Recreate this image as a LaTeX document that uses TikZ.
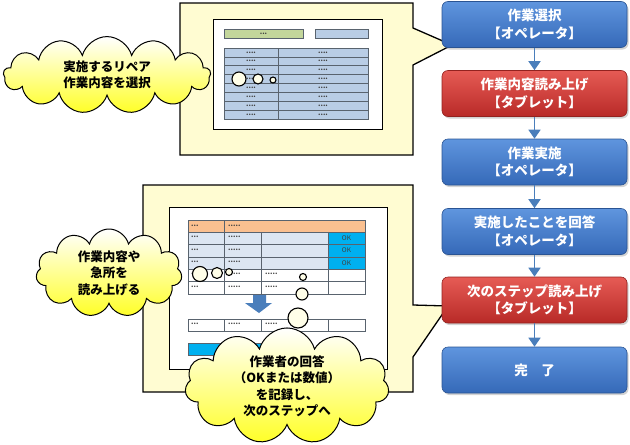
\documentclass[tikz,border=0pt]{standalone}
\usepackage{fontspec}
\setmainfont{Noto Sans CJK JP}
\usetikzlibrary{shapes.symbols,shadows,arrows.meta}

\definecolor{calloutyellow}{HTML}{FFFCD2}
\definecolor{flowblue}{HTML}{3569B8}
\definecolor{flowbluetop}{HTML}{5F95DE}
\definecolor{flowred}{HTML}{B82A27}
\definecolor{flowredtop}{HTML}{E65B55}
\definecolor{arrowblue}{HTML}{4A7EBB}
\definecolor{cellblue}{HTML}{B9CDE5}
\definecolor{cellgreen}{HTML}{C3D69B}
\definecolor{cellorange}{HTML}{FAC090}
\definecolor{celllav}{HTML}{DCE6F2}
\definecolor{okblue}{HTML}{00B0F0}
\definecolor{gridgray}{HTML}{59636E}

\tikzset{
  bluestep/.style={rectangle, rounded corners=6pt, minimum width=185pt,
    minimum height=46pt, top color=flowbluetop, bottom color=flowblue,
    draw=flowblue!80!black, line width=0.6pt, text=white, align=center,
    font=\fontsize{13.5}{17.5}\selectfont\bfseries,
    drop shadow={opacity=0.35, shadow xshift=1.5pt, shadow yshift=-2pt}},
  redstep/.style={bluestep, top color=flowredtop, bottom color=flowred,
    draw=flowred!80!black},
  flowarrow/.style={draw=arrowblue, line width=1.6pt,
    -{Triangle[width=12pt,length=9pt]}},
  callout/.style={draw=black, line width=1.3pt, fill=calloutyellow},
  thought/.style={cloud, cloud puffs=11, cloud ignores aspect, draw=black,
    line width=1pt, top color=white, bottom color=yellow!85!white,
    align=center, inner sep=0pt,
    font=\fontsize{12.5}{16.5}\selectfont\bfseries},
  bubble/.style={draw=black, line width=1.1pt, fill=calloutyellow!50!white},
  cell/.style={draw=gridgray, line width=0.6pt},
  dots/.style={font=\fontsize{7}{7}\selectfont\bfseries, inner sep=0pt,
    text=black!75},
}

\begin{document}
\begin{tikzpicture}[x=1pt,y=-1pt]
  \useasboundingbox (0,0) rectangle (630,445);

  % upper callout: selecting the repair
  \draw[callout] (180,3) -- (413,3) -- (413,28) -- (452,45) -- (413,65)
    -- (413,155) -- (180,155) -- cycle;
  \draw[fill=white, line width=0.9pt] (213,19) rectangle (382,129);
  \draw[cell, fill=cellgreen] (224,29) rectangle (303,38)
    node[pos=0.5, dots] {...};
  \draw[cell, fill=cellblue] (315,29) rectangle (368,38);
  \foreach \r in {0,...,7} {
    \draw[cell, fill=cellblue] (224,48+\r*8.875) rectangle (278,56.875+\r*8.875)
      node[pos=0.5, dots] {....};
    \draw[cell, fill=cellblue] (278,48+\r*8.875) rectangle (368,56.875+\r*8.875)
      node[pos=0.5, dots] {....};
  }
  \draw[bubble] (239,79) circle[radius=7pt];
  \draw[bubble] (258,79) circle[radius=5pt];
  \draw[bubble] (273,80) circle[radius=3pt];

  % lower callout: reading out and recording
  \draw[callout] (143,185) -- (413,185) -- (413,305) -- (448,306) -- (413,357)
    -- (413,392) -- (143,392) -- cycle;
  \draw[fill=white, line width=0.9pt] (169,207) rectangle (387,369);
  \draw[cell, fill=cellorange] (188,220) rectangle (224,232);
  \draw[cell, fill=cellorange] (224,220) rectangle (365,232);
  \node[dots, anchor=west] (headdots1) at (191,226) {...};
  \node[dots, anchor=west] (headdots2) at (228,226) {.....};
  \foreach \r in {0,1,2} {
    \draw[cell, fill=celllav] (188,232+\r*12.4) rectangle (224,244.4+\r*12.4);
    \draw[cell, fill=celllav] (224,232+\r*12.4) rectangle (261,244.4+\r*12.4);
    \draw[cell, fill=celllav] (261,232+\r*12.4) rectangle (328,244.4+\r*12.4);
    \draw[cell, fill=okblue] (328,232+\r*12.4) rectangle (365,244.4+\r*12.4)
      node[pos=0.5, font=\fontsize{6.5}{6.5}\selectfont, text=black!75] {OK};
    \node[dots, anchor=west] at (191,237+\r*12.4) {...};
    \node[dots, anchor=west] at (228,237+\r*12.4) {.....};
  }
  \foreach \r in {3,4} {
    \draw[cell] (188,232+\r*12.4) rectangle (224,244.4+\r*12.4);
    \draw[cell] (224,232+\r*12.4) rectangle (261,244.4+\r*12.4);
    \draw[cell] (261,232+\r*12.4) rectangle (328,244.4+\r*12.4);
    \draw[cell] (328,232+\r*12.4) rectangle (365,244.4+\r*12.4);
    \node[dots, anchor=west] at (191,237+\r*12.4) {...};
    \node[dots, anchor=west] at (228,237+\r*12.4) {.....};
    \node[dots, anchor=west] at (265,237+\r*12.4) {.....};
  }
  \fill[arrowblue] (253,295) -- (266,295) -- (266,303) -- (272,303)
    -- (259,313) -- (245,303) -- (253,303) -- cycle;
  \draw[cell] (188,319) rectangle (224,331);
  \draw[cell] (224,319) rectangle (261,331);
  \draw[cell] (261,319) rectangle (328,331);
  \draw[cell] (328,319) rectangle (365,331);
  \node[dots, anchor=west] (rowdots1) at (191,324) {...};
  \node[dots, anchor=west] (rowdots2) at (228,324) {.....};
  \node[dots, anchor=west] (rowdots3) at (265,324) {.....};
  \draw[cell, fill=okblue] (188,343) rectangle (290,355);
  \draw[bubble] (200,274) circle[radius=7.5pt];
  \draw[bubble] (217,273) circle[radius=5.5pt];
  \draw[bubble] (229,272) circle[radius=3.5pt];
  \draw[bubble] (303,277) circle[radius=3.5pt];
  \draw[bubble] (302,294) circle[radius=6pt];
  \draw[bubble] (298,318) circle[radius=10pt];

  % thought clouds
  \node[thought, cloud puffs=13, inner xsep=29pt, inner ysep=0pt]
    (selcloud) at (107,75) {実施するリペア\\作業内容を選択};
  \node[thought, minimum width=146pt, minimum height=88pt] (readcloud)
    at (109,273) {作業内容や\\急所を\\読み上げる};
  \node[thought, minimum width=204pt, minimum height=92pt] (answercloud)
    at (287,386) {作業者の回答\\（OKまたは数値）\\を記録し、\\次のステップへ};

  % work flow
  \node[bluestep] (sel) at (534.5,24.5) {作業選択\\【オペレータ】};
  \node[redstep] (read) at (534.5,93.5) {作業内容読み上げ\\【タブレット】};
  \node[bluestep] (work) at (534.5,162) {作業実施\\【オペレータ】};
  \node[bluestep] (ans) at (534.5,231.5) {実施したことを回答\\【オペレータ】};
  \node[redstep] (next) at (534.5,300) {次のステップ読み上げ\\【タブレット】};
  \node[bluestep] (done) at (534.5,370) {完　了};
  \foreach \a/\b in {sel/read,read/work,work/ans,ans/next,next/done}
    \draw[flowarrow] (\a) -- (\b);
\end{tikzpicture}
\end{document}
